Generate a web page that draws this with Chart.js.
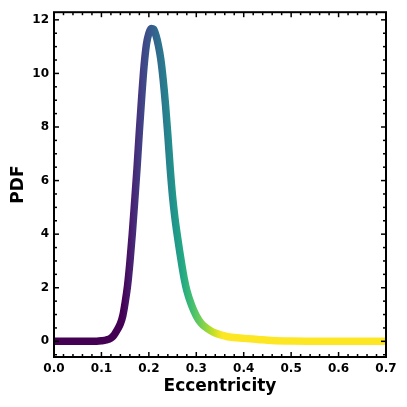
<!DOCTYPE html>
<html>
<head>
<meta charset="utf-8">
<script src="https://cdn.jsdelivr.net/npm/chart.js@4/dist/chart.umd.min.js"></script>
<style>
  html, body { margin: 0; padding: 0; background: #fff; }
  canvas { display: block; }
</style>
</head>
<body>
<canvas id="pdfChart" width="407" height="407"></canvas>
<script>
// data
const eccentricity = [0.00, 0.05, 0.09, 0.10, 0.11, 0.12, 0.125, 0.13, 0.135, 0.14, 0.145, 0.15, 0.155, 0.16,
  0.165, 0.17, 0.175, 0.18, 0.185, 0.19, 0.195, 0.20, 0.205, 0.21, 0.215, 0.22, 0.225, 0.23, 0.235, 0.24,
  0.245, 0.25, 0.255, 0.26, 0.265, 0.27, 0.275, 0.28, 0.29, 0.30, 0.31, 0.32, 0.33, 0.34, 0.35, 0.36, 0.37,
  0.40, 0.43, 0.46, 0.50, 0.55, 0.60, 0.70];
const pdf = [0.00, 0.00, 0.005, 0.02, 0.05, 0.12, 0.20, 0.33, 0.48, 0.66, 0.95, 1.45, 2.07, 2.95,
  4.00, 5.20, 6.45, 7.85, 9.15, 10.30, 11.10, 11.50, 11.68, 11.65, 11.42, 11.05, 10.55, 9.80, 8.85, 7.70,
  6.45, 5.40, 4.60, 3.95, 3.35, 2.80, 2.30, 1.90, 1.35, 0.95, 0.68, 0.52, 0.40, 0.31, 0.25, 0.20, 0.16,
  0.11, 0.07, 0.03, 0.01, 0.005, 0.00, 0.00];

const xTicks = [0, 0.1, 0.2, 0.3, 0.4, 0.5, 0.6, 0.7];
const xTickLabels = ["0.0", "0.1", "0.2", "0.3", "0.4", "0.5", "0.6", "0.7"];
const yTicks = [0, 2, 4, 6, 8, 10, 12];
const yTickLabels = ["0", "2", "4", "6", "8", "10", "12"];

// colour goes along x (viridis)
const viridis = ["#440154", "#482475", "#414487", "#355f8d", "#2a788e", "#21918c",
  "#22a884", "#44bf70", "#7ad151", "#bddf26", "#fde725"];
const colorFrom = 0.145;
const colorTo = 0.355;

const FONT = "'DejaVu Sans', sans-serif";

function lineGradient(ctx) {
  const chart = ctx.chart;
  if (!chart.chartArea) return viridis[0];
  const xs = chart.scales.x;
  const g = chart.ctx.createLinearGradient(xs.getPixelForValue(colorFrom), 0, xs.getPixelForValue(colorTo), 0);
  viridis.forEach((c, i) => g.addColorStop(i / (viridis.length - 1), c));
  return g;
}

// frame + inward ticks on all sides (major and minor)
const frameTicks = {
  id: "frameTicks",
  afterDraw(chart) {
    const { ctx, chartArea: a, scales } = chart;
    ctx.save();
    ctx.strokeStyle = "#000";
    ctx.lineWidth = 1.5;
    const tick = (x1, y1, x2, y2) => {
      ctx.beginPath(); ctx.moveTo(x1, y1); ctx.lineTo(x2, y2); ctx.stroke();
    };
    // x
    for (let i = 0; i <= 35; i++) {
      const v = i * 0.02;
      const px = scales.x.getPixelForValue(v);
      const len = i % 5 === 0 ? 5 : 3;
      tick(px, a.bottom, px, a.bottom - len);
      tick(px, a.top, px, a.top + len);
    }
    // y
    for (let i = -1; i <= 24; i++) {
      const v = i * 0.5;
      if (v < scales.y.min || v > scales.y.max) continue;
      const py = scales.y.getPixelForValue(v);
      const len = i % 4 === 0 ? 5 : 3;
      tick(a.left, py, a.left + len, py);
      tick(a.right, py, a.right - len, py);
    }
    ctx.lineWidth = 2;
    ctx.strokeRect(a.left, a.top, a.right - a.left, a.bottom - a.top);
    ctx.restore();
  }
};

new Chart(document.getElementById("pdfChart"), {
  type: "line",
  data: {
    datasets: [{
      data: eccentricity.map((x, i) => ({ x, y: pdf[i] })),
      borderColor: lineGradient,
      borderWidth: 7.5,
      borderCapStyle: "round",
      borderJoinStyle: "round",
      cubicInterpolationMode: "monotone",
      pointRadius: 0,
      fill: false
    }]
  },
  options: {
    responsive: false,
    animation: false,
    devicePixelRatio: 1,
    layout: { padding: { top: 11, right: 21, bottom: 0, left: 0 } },
    plugins: { legend: { display: false }, tooltip: { enabled: false } },
    scales: {
      x: {
        type: "linear",
        min: 0,
        max: 0.7,
        afterFit: (s) => { s.height = 50; },
        afterBuildTicks: (s) => { s.ticks = xTicks.map((v) => ({ value: v })); },
        grid: { display: false, drawTicks: false },
        border: { display: false },
        ticks: {
          padding: 5,
          color: "#000",
          maxRotation: 0,
          font: { family: FONT, size: 12, weight: "bold" },
          callback: (v) => xTickLabels[xTicks.indexOf(v)]
        },
        title: {
          display: true,
          text: "Eccentricity",
          color: "#000",
          padding: { top: 0, bottom: 10 },
          font: { family: FONT, size: 17, weight: "bold" }
        }
      },
      y: {
        min: -0.585,
        max: 12.285,
        afterFit: (s) => { s.width = 54; },
        afterBuildTicks: (s) => { s.ticks = yTicks.map((v) => ({ value: v })); },
        grid: { display: false, drawTicks: false },
        border: { display: false },
        ticks: {
          padding: 5,
          color: "#000",
          font: { family: FONT, size: 12, weight: "bold" },
          callback: (v) => yTickLabels[yTicks.indexOf(v)]
        },
        title: {
          display: true,
          text: "PDF",
          color: "#000",
          padding: { top: 8, bottom: 0 },
          font: { family: FONT, size: 17, weight: "bold" }
        }
      }
    }
  },
  plugins: [frameTicks]
});
</script>
</body>
</html>
